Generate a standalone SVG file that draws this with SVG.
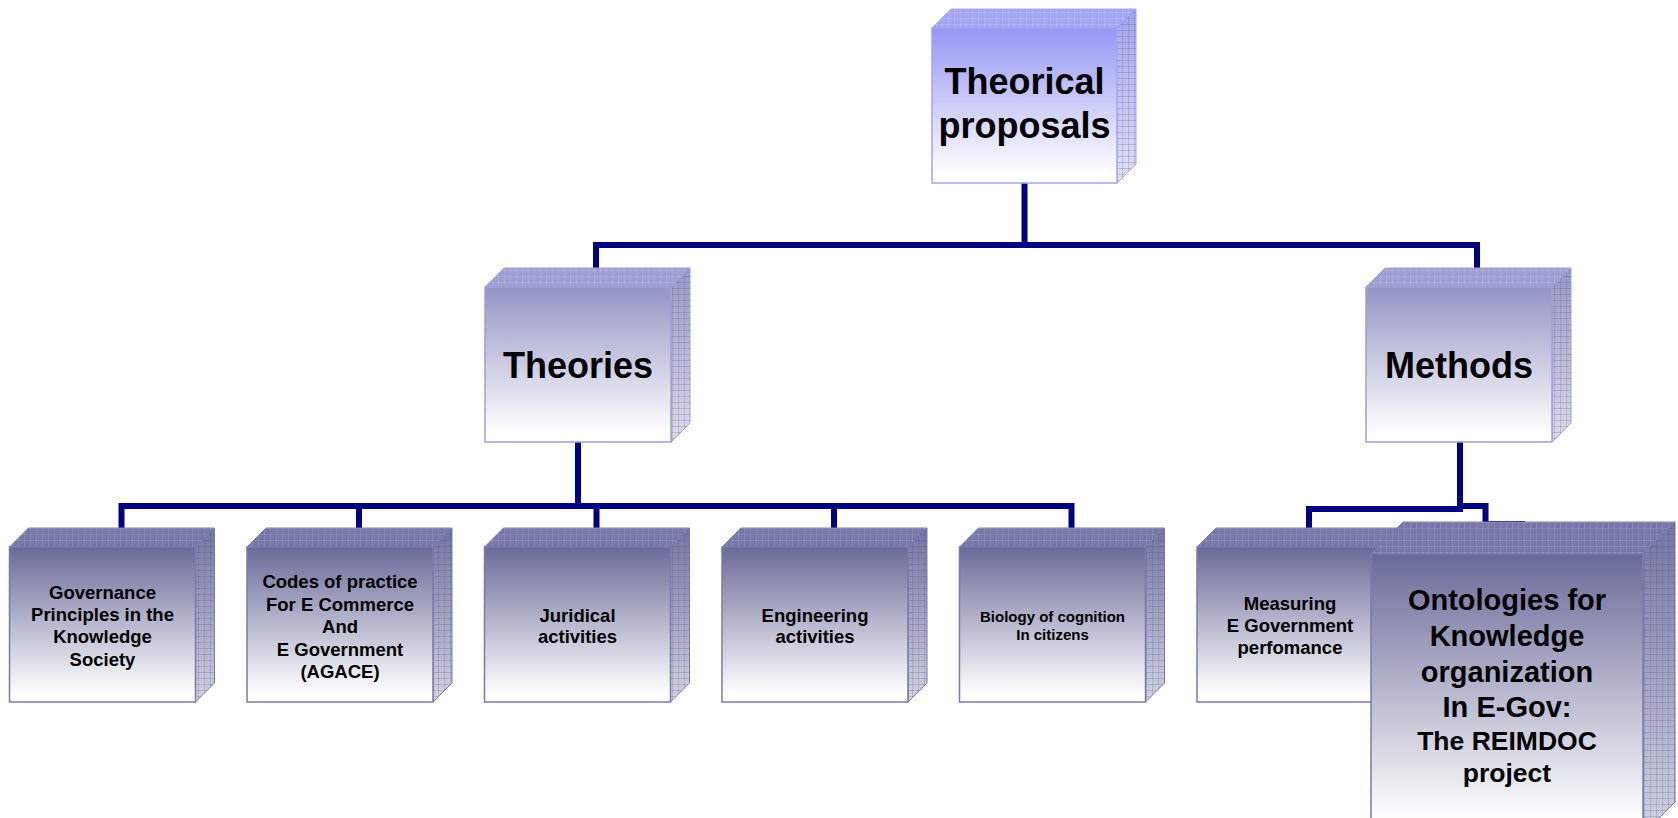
<svg xmlns="http://www.w3.org/2000/svg" width="1678" height="818" viewBox="0 0 1678 818">
<defs>
<linearGradient id="fTop" x1="0" y1="0" x2="0" y2="1"><stop offset="0" stop-color="#9696f4"/><stop offset="0.95" stop-color="#ffffff"/></linearGradient>
<linearGradient id="fMid" x1="0" y1="0" x2="0" y2="1"><stop offset="0" stop-color="#9494c6"/><stop offset="0.95" stop-color="#ffffff"/></linearGradient>
<linearGradient id="fLow" x1="0" y1="0" x2="0" y2="1"><stop offset="0" stop-color="#6a6a9a"/><stop offset="0.95" stop-color="#ffffff"/></linearGradient>
<linearGradient id="sTop" x1="0" y1="0" x2="0" y2="1"><stop offset="0" stop-color="#a4a4ee"/><stop offset="1" stop-color="#e2e2fa"/></linearGradient>
<linearGradient id="sMid" x1="0" y1="0" x2="0" y2="1"><stop offset="0" stop-color="#9898c8"/><stop offset="1" stop-color="#dedeee"/></linearGradient>
<linearGradient id="sLow" x1="0" y1="0" x2="0" y2="1"><stop offset="0" stop-color="#7474a4"/><stop offset="1" stop-color="#d4d4e4"/></linearGradient>
<pattern id="grid" width="6" height="6" patternUnits="userSpaceOnUse">
<path d="M0,0.5 H6 M0.5,0 V6" stroke="#4a4a7a" stroke-opacity="0.22" stroke-width="1" fill="none"/>
<rect x="2.5" y="2.5" width="1" height="1" fill="#4a4a7a" fill-opacity="0.18"/>
</pattern>
<pattern id="gridT" width="6" height="6" patternUnits="userSpaceOnUse">
<path d="M0,0.5 H6 M0.5,0 V6" stroke="#ffffff" stroke-opacity="0.12" stroke-width="1" fill="none"/>
<rect x="2.5" y="2.5" width="1" height="1" fill="#ffffff" fill-opacity="0.12"/>
</pattern>
</defs>
<style>
.front{stroke-width:1.5}
.t .front{fill:url(#fTop);stroke:#a4a4f6}
.m .front{fill:url(#fMid);stroke:#a0a0d2}
.l .front{fill:url(#fLow);stroke:#7a7aac}
.t .topf{fill:#a4a4f2;stroke:#a4a4f6}
.m .topf{fill:#9e9ed2;stroke:#a0a0d2}
.l .topf{fill:#7676a8;stroke:#7a7aac}
.t .side{fill:url(#sTop);stroke:#a4a4f6}
.m .side{fill:url(#sMid);stroke:#a0a0d2}
.l .side{fill:url(#sLow);stroke:#7a7aac}
.topf,.side{stroke-width:1}
.tex{fill:url(#grid)}
.texT{fill:url(#gridT)}
text{font-family:"Liberation Sans",Arial,sans-serif;font-weight:bold;fill:#000;text-anchor:middle}
.big{font-size:36px}
.sm{font-size:18.5px}
.xs{font-size:15px}
.on{font-size:29px}
.on2{font-size:26.5px}
.conn{fill:none;stroke:#000080;stroke-width:6;stroke-linejoin:miter;stroke-linecap:butt}
</style>
<g id="connectors">
<path class="conn" d="M1024.5,183 V245"/>
<path class="conn" d="M596,268 V245 H1477 V268"/>
<path class="conn" d="M578,442 V506"/>
<path class="conn" d="M121.5,529 V506 H1071.5 V529"/>
<path class="conn" d="M359,506 V529 M596.5,506 V529 M834,506 V529"/>
<path class="conn" d="M1460,442 V512"/>
<path class="conn" d="M1309,529 V509 H1460"/>
<path class="conn" d="M1460,506 H1485.5 V524 H1522 V560"/>
</g>
<g id="n-theorical" class="t">
<polygon class="topf" points="932,28 951,9 1136,9 1117,28"/>
<polygon class="texT" points="932,28 951,9 1136,9 1117,28"/>
<polygon class="side" points="1117,28 1136,9 1136,164 1117,183"/>
<polygon class="tex" points="1117,28 1136,9 1136,164 1117,183"/>
<rect class="front" x="932" y="28" width="185" height="155"/>
<text class="big" x="1024.5" y="94">Theorical</text>
<text class="big" x="1024.5" y="138">proposals</text>
</g>
<g id="n-theories" class="m">
<polygon class="topf" points="485,287 504,268 690,268 671,287"/>
<polygon class="texT" points="485,287 504,268 690,268 671,287"/>
<polygon class="side" points="671,287 690,268 690,423 671,442"/>
<polygon class="tex" points="671,287 690,268 690,423 671,442"/>
<rect class="front" x="485" y="287" width="186" height="155"/>
<text class="big" x="578" y="378">Theories</text>
</g>
<g id="n-methods" class="m">
<polygon class="topf" points="1366,287 1385,268 1571,268 1552,287"/>
<polygon class="texT" points="1366,287 1385,268 1571,268 1552,287"/>
<polygon class="side" points="1552,287 1571,268 1571,423 1552,442"/>
<polygon class="tex" points="1552,287 1571,268 1571,423 1552,442"/>
<rect class="front" x="1366" y="287" width="186" height="155"/>
<text class="big" x="1459" y="378">Methods</text>
</g>
<g id="n-governance" class="l">
<polygon class="topf" points="9.5,547 28.5,528 214.5,528 195.5,547"/>
<polygon class="texT" points="9.5,547 28.5,528 214.5,528 195.5,547"/>
<polygon class="side" points="195.5,547 214.5,528 214.5,683 195.5,702"/>
<polygon class="tex" points="195.5,547 214.5,528 214.5,683 195.5,702"/>
<rect class="front" x="9.5" y="547" width="186" height="155"/>
<text class="sm" x="102.5" y="599">Governance</text>
<text class="sm" x="102.5" y="621">Principles in the</text>
<text class="sm" x="102.5" y="643">Knowledge</text>
<text class="sm" x="102.5" y="665.5">Society</text>
</g>
<g id="n-codes" class="l">
<polygon class="topf" points="247,547 266,528 452,528 433,547"/>
<polygon class="texT" points="247,547 266,528 452,528 433,547"/>
<polygon class="side" points="433,547 452,528 452,683 433,702"/>
<polygon class="tex" points="433,547 452,528 452,683 433,702"/>
<rect class="front" x="247" y="547" width="186" height="155"/>
<text class="sm" x="340" y="588">Codes of practice</text>
<text class="sm" x="340" y="610.5">For E Commerce</text>
<text class="sm" x="340" y="633">And</text>
<text class="sm" x="340" y="655.5">E Government</text>
<text class="sm" x="340" y="678">(AGACE)</text>
</g>
<g id="n-juridical" class="l">
<polygon class="topf" points="484.5,547 503.5,528 689.5,528 670.5,547"/>
<polygon class="texT" points="484.5,547 503.5,528 689.5,528 670.5,547"/>
<polygon class="side" points="670.5,547 689.5,528 689.5,683 670.5,702"/>
<polygon class="tex" points="670.5,547 689.5,528 689.5,683 670.5,702"/>
<rect class="front" x="484.5" y="547" width="186" height="155"/>
<text class="sm" x="577.5" y="621.5">Juridical</text>
<text class="sm" x="577.5" y="643">activities</text>
</g>
<g id="n-engineering" class="l">
<polygon class="topf" points="722,547 741,528 927,528 908,547"/>
<polygon class="texT" points="722,547 741,528 927,528 908,547"/>
<polygon class="side" points="908,547 927,528 927,683 908,702"/>
<polygon class="tex" points="908,547 927,528 927,683 908,702"/>
<rect class="front" x="722" y="547" width="186" height="155"/>
<text class="sm" x="815" y="621.5">Engineering</text>
<text class="sm" x="815" y="643">activities</text>
</g>
<g id="n-biology" class="l">
<polygon class="topf" points="959.5,547 978.5,528 1164.5,528 1145.5,547"/>
<polygon class="texT" points="959.5,547 978.5,528 1164.5,528 1145.5,547"/>
<polygon class="side" points="1145.5,547 1164.5,528 1164.5,683 1145.5,702"/>
<polygon class="tex" points="1145.5,547 1164.5,528 1164.5,683 1145.5,702"/>
<rect class="front" x="959.5" y="547" width="186" height="155"/>
<text class="xs" x="1052.5" y="621.5">Biology of cognition</text>
<text class="xs" x="1052.5" y="640">In citizens</text>
</g>
<g id="n-measuring" class="l">
<polygon class="topf" points="1197,547 1216,528 1402,528 1383,547"/>
<polygon class="texT" points="1197,547 1216,528 1402,528 1383,547"/>
<polygon class="side" points="1383,547 1402,528 1402,683 1383,702"/>
<polygon class="tex" points="1383,547 1402,528 1402,683 1383,702"/>
<rect class="front" x="1197" y="547" width="186" height="155"/>
<text class="sm" x="1290" y="610">Measuring</text>
<text class="sm" x="1290" y="632">E Government</text>
<text class="sm" x="1290" y="654">perfomance</text>
</g>
<g id="n-ontologies" class="l">
<polygon class="topf" points="1371,554 1403,522 1675,522 1643,554"/>
<polygon class="texT" points="1371,554 1403,522 1675,522 1643,554"/>
<polygon class="side" points="1643,554 1675,522 1675,802 1643,834"/>
<polygon class="tex" points="1643,554 1675,522 1675,802 1643,834"/>
<rect class="front" x="1371" y="554" width="272" height="280"/>
<text class="on" x="1507" y="610">Ontologies for</text>
<text class="on" x="1507" y="646">Knowledge</text>
<text class="on" x="1507" y="682">organization</text>
<text class="on" x="1507" y="717">In E-Gov:</text>
<text class="on2" x="1507" y="750">The REIMDOC</text>
<text class="on2" x="1507" y="782">project</text>
</g>
</svg>
